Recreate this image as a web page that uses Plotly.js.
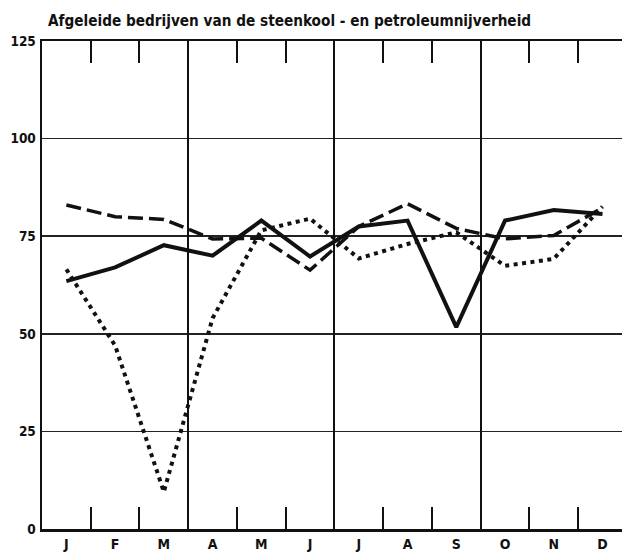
<!DOCTYPE html>
<html>
<head>
<meta charset="utf-8">
<script src="https://cdn.plot.ly/plotly-3.0.1.min.js"></script>
<style>html,body{margin:0;padding:0;background:#fff;}#chart{width:622px;height:557px;}</style>
</head>
<body>
<div id="chart"></div>
<script>
var months = ['J','F','M','A','M','J','J','A','S','O','N','D'];
var monthIndex = [0,1,2,3,4,5,6,7,8,9,10,11];
var solidSeries  = [63.5, 67, 72.7, 70, 79, 69.8, 77.5, 79, 51.7, 79, 81.7, 80.7];
var dashedSeries = [83, 80, 79.3, 74.3, 74.5, 66.3, 77.5, 83.3, 77, 74.3, 75.2, 82.3];
var dottedSeries = [66.5, 47, 9.5, 54, 76.5, 79.5, 69.3, 73, 76, 67.4, 69.2, 82.6];
var yTicks = [0, 25, 50, 75, 100, 125];
var yTickText = ['0','25','50','75','100','125'];
var monthBoundaries = [0.5,1.5,3.5,4.5,6.5,7.5,9.5,10.5];
var quarterBoundaries = [2.5,5.5,8.5];
var titleText = 'Afgeleide bedrijven van de steenkool - en petroleumnijverheid';

var FONT = '"DejaVu Sans Condensed", sans-serif';
var INK = '#111';

var traces = [
  {x: [], y: [], xaxis: 'x2', yaxis: 'y', mode: 'lines', hoverinfo: 'none', showlegend: false},
  {x: monthIndex, y: dottedSeries, mode: 'lines', line: {color: INK, width: 4, dash: '4px,4.5px'}, hoverinfo: 'none'},
  {x: monthIndex, y: dashedSeries, mode: 'lines', line: {color: INK, width: 3.5, dash: '15px,6px'}, hoverinfo: 'none'},
  {x: monthIndex, y: solidSeries, mode: 'lines', line: {color: INK, width: 4}, hoverinfo: 'none'}
];

var layout = {
  width: 622, height: 557,
  margin: {l: 42, r: 0, t: 41, b: 28},
  paper_bgcolor: '#fff', plot_bgcolor: 'rgba(0,0,0,0)',
  showlegend: false,
  title: {text: titleText, font: {family: FONT, size: 15.2, color: INK, weight: 'bold'},
          x: 48/622, xanchor: 'left', xref: 'container', y: 1 - 21/557, yanchor: 'middle', yref: 'container'},
  xaxis: {
    range: [-0.5, 11.4], tickmode: 'array', tickvals: monthIndex, ticktext: months,
    ticks: '', showgrid: false, zeroline: false,
    showline: true, linecolor: INK, linewidth: 2.5, mirror: 'ticks',
    tickfont: {family: FONT, size: 14, color: INK, weight: 'bold'},
    ticklabelstandoff: 1,
    minor: {tickmode: 'array', tickvals: monthBoundaries, ticks: 'inside', ticklen: 22, tickwidth: 2, tickcolor: INK, showgrid: false}
  },
  xaxis2: {
    overlaying: 'x', range: [-0.5, 11.4], tickmode: 'array', tickvals: quarterBoundaries,
    showticklabels: false, ticks: '', showgrid: true, gridcolor: INK, gridwidth: 2, zeroline: false, showline: false
  },
  yaxis: {
    range: [0, 125], tickmode: 'array', tickvals: yTicks, ticktext: yTickText,
    ticks: '', showgrid: true, gridcolor: '#222', gridwidth: 1.5, zeroline: false,
    showline: true, linecolor: INK, linewidth: 2.5,
    tickfont: {family: FONT, size: 13.5, color: INK, weight: 'bold'},
    ticklabelstandoff: 1
  }
};

Plotly.newPlot('chart', traces, layout, {staticPlot: true, displayModeBar: false});
</script>
</body>
</html>
